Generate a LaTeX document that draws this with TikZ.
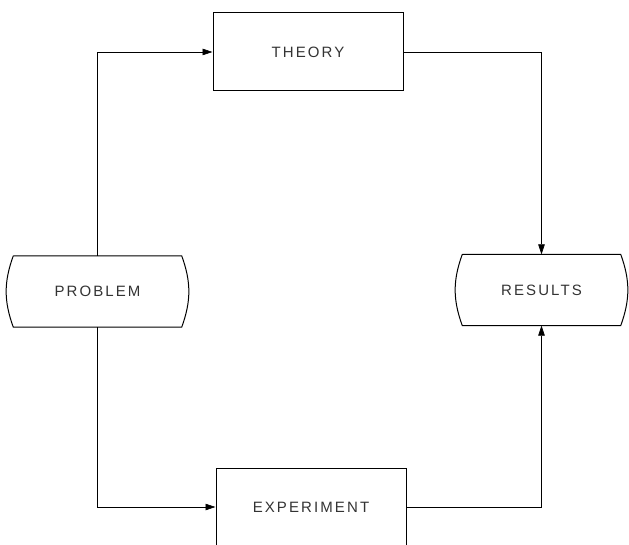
\documentclass[tikz,border=0pt]{standalone}
\usepackage{fontspec}
\setmainfont{Liberation Sans}[LetterSpace=14]
\usetikzlibrary{arrows.meta, positioning}

\begin{document}
\begin{tikzpicture}[x=1pt, y=1pt,
    block/.style={draw, line width=1pt, minimum width=190pt, minimum height=78pt, font=\fontsize{15}{18}\selectfont, text=black!80},
    terminal/.style={minimum width=168pt, minimum height=71pt, font=\fontsize{15}{18}\selectfont, text=black!80},
    flow/.style={line width=0.6pt, -{Triangle[length=10pt, width=6.5pt]}}]
        \useasboundingbox (0,0) rectangle (629,544);
        \node[terminal] (problem) at (97.5,252.5) {PROBLEM};
        \node[terminal, minimum width=158pt] (results) at (541.5,254) {RESULTS};
        \node[block] (theory) at (308,492) {THEORY};
        \node[block] (experiment) at (311,37) {EXPERIMENT};
        % curved sides of the end boxes
        \foreach \n in {problem,results}
                \draw[line width=1pt] (\n.north west) -- (\n.north east) to[bend left=20] (\n.south east)
                        -- (\n.south west) to[bend left=20] (\n.north west);
        \draw[flow] (problem.north) |- (theory.west);
        \draw[flow] (problem.south) |- (experiment.west);
        \draw[flow] (theory.east) -| (results.north);
        \draw[flow] (experiment.east) -| (results.south);
\end{tikzpicture}
\end{document}
